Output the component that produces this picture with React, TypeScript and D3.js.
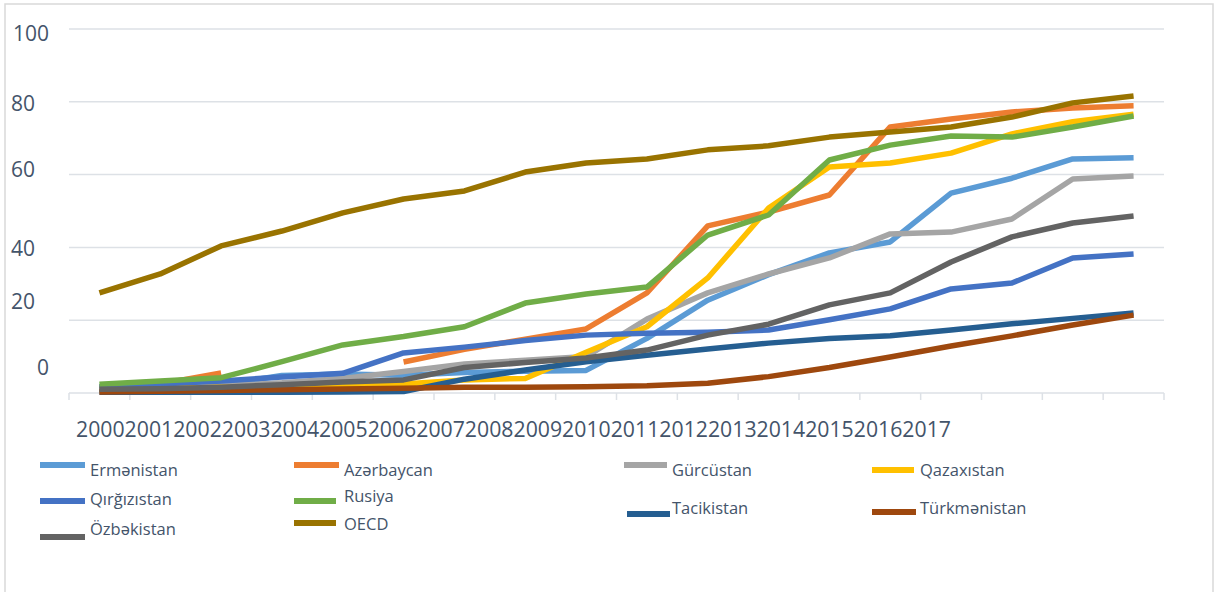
import React from "react";
import * as d3 from "d3";

// years on the x axis
const years = [
  "2000", "2001", "2002", "2003", "2004", "2005", "2006", "2007", "2008",
  "2009", "2010", "2011", "2012", "2013", "2014", "2015", "2016", "2017",
];

const yTicks = [100, 80, 60, 40, 20, 0];

// series values (null = no value)
const ermenistan = [1.0, 1.5, 2.2, 4.8, 5.2, 4.9, 5.6, 6.0, 6.2, 15.0, 25.5, 32.5, 38.5, 41.5, 54.9, 59.0, 64.3, 64.6];
const azerbaycan = [1.5, 2.5, 5.5, null, null, 8.5, 12.0, 14.8, 17.6, 27.5, 45.9, 49.7, 54.4, 73.1, 75.3, 77.2, 78.3, 78.9];
const gurcustan = [1.3, 1.6, 2.0, 2.8, 4.0, 5.9, 8.0, 9.0, 10.0, 20.3, 27.5, 32.7, 37.1, 43.7, 44.2, 47.8, 58.8, 59.6];
const qazaxistan = [0.8, 1.3, 1.6, 1.8, 2.0, 2.5, 3.6, 4.0, 11.2, 18.2, 31.6, 50.8, 62.1, 63.2, 65.9, 71.2, 74.5, 76.6];
const qirgizistan = [1.7, 2.5, 3.3, 4.4, 5.4, 11.0, 12.6, 14.4, 15.9, 16.4, 16.7, 17.3, 20.1, 23.1, 28.6, 30.2, 37.1, 38.2];
const rusiya = [2.4, 3.3, 4.2, 8.6, 13.2, 15.5, 18.2, 24.7, 27.2, 29.1, 43.4, 48.9, 64.0, 68.1, 70.6, 70.3, 73.1, 76.1];
const tacikistan = [0.2, 0.2, 0.2, 0.2, 0.3, 0.4, 3.8, 6.3, 8.6, 10.4, 12.1, 13.7, 15.0, 15.7, 17.3, 19.0, 20.5, 22.0];
const turkmenistan = [0.3, 0.5, 0.7, 0.9, 1.1, 1.3, 1.6, 1.6, 1.7, 2.0, 2.7, 4.5, 7.0, 9.9, 12.9, 15.7, 18.7, 21.4];
const ozbekistan = [1.0, 1.2, 1.6, 2.3, 3.0, 3.6, 7.0, 8.4, 9.6, 11.8, 15.9, 18.9, 24.2, 27.5, 36.0, 42.9, 46.7, 48.6];
const oecd = [27.5, 32.7, 40.4, 44.5, 49.5, 53.3, 55.5, 60.7, 63.2, 64.3, 66.8, 67.9, 70.3, 71.7, 73.1, 75.8, 79.7, 81.6];

const seriesNames = [
  "Ermənistan", "Azərbaycan", "Gürcüstan", "Qazaxıstan", "Qırğızıstan",
  "Rusiya", "Tacikistan", "Türkmənistan", "Özbəkistan", "OECD",
];
const seriesValues = [
  ermenistan, azerbaycan, gurcustan, qazaxistan, qirgizistan,
  rusiya, tacikistan, turkmenistan, ozbekistan, oecd,
];
const colors = [
  "#5b9bd5", "#ed7d31", "#a5a5a5", "#ffc000", "#4472c4",
  "#70ad47", "#255e91", "#9e480e", "#636363", "#997300",
];

// layout
const W = 1215;
const H = 592;
const font = "'Open Sans', 'Noto Sans', sans-serif";
const textColor = "#44546a";
const gridColor = "#dde1e6";

// y labels sit a little off their gridlines in the original
const yLabelBaseline = [41, 111, 177, 256, 309, 375];
const yLabelX = [{ x: 49, a: "end" }, { x: 11, a: "start" }, { x: 11, a: "start" }, { x: 11, a: "start" }, { x: 11, a: "start" }, { x: 49, a: "end" }];

// legend slots: swatch x0,x1,y and text x, baseline
const legendSlots = [
  { x0: 40, x1: 85, y: 465, tx: 90, ty: 476 },
  { x0: 294, x1: 339, y: 465, tx: 344, ty: 476 },
  { x0: 624, x1: 667, y: 465, tx: 672, ty: 476 },
  { x0: 872, x1: 914, y: 470, tx: 920, ty: 476 },
  { x0: 40, x1: 85, y: 501, tx: 90, ty: 505 },
  { x0: 294, x1: 336, y: 501, tx: 344, ty: 502 },
  { x0: 627, x1: 670, y: 514, tx: 672, ty: 514 },
  { x0: 872, x1: 916, y: 512, tx: 920, ty: 514 },
  { x0: 40, x1: 85, y: 537, tx: 90, ty: 535 },
  { x0: 294, x1: 336, y: 523, tx: 344, ty: 530 },
];

export default function App() {
  const x = d3.scaleBand<string>().domain(years).range([69, 1164]);
  const y = d3.scaleLinear().domain([0, 100]).range([393, 29]);
  // the year labels run together, starting near the left of the axis
  const labelX = d3.scaleLinear().domain([0, years.length]).range([76, 951]);

  const line = d3
    .line<number | null>()
    .defined((d) => d != null)
    .x((_, i) => (x(years[i]) as number) + x.bandwidth() / 2)
    .y((d) => y(d as number));

  const boundaries = [...years.map((yr) => x(yr) as number), x.range()[1]];

  return (
    <>
      <style>{`body{margin:0}`}</style>
      <svg width={W} height={H} style={{ display: "block", background: "#fff" }}>
        <rect x={5} y={4} width={1208} height={600} fill="none" stroke="#d9d9d9" strokeWidth={1.5} />

        {yTicks.map((t) =>
          t === 0 ? null : (
            <line key={t} x1={69} x2={1164} y1={y(t)} y2={y(t)} stroke={gridColor} strokeWidth={1.5} />
          )
        )}
        <line x1={69} x2={1164} y1={y(0)} y2={y(0)} stroke={gridColor} strokeWidth={1.5} />
        {boundaries.map((bx, i) => (
          <line key={i} x1={bx} x2={bx} y1={y(0)} y2={y(0) + 7} stroke={gridColor} strokeWidth={1.5} />
        ))}

        {yTicks.map((t, i) => (
          <text
            key={t}
            x={yLabelX[i].x}
            y={yLabelBaseline[i]}
            textAnchor={yLabelX[i].a as any}
            fontFamily={font}
            fontSize={21}
            fill={textColor}
          >
            {t}
          </text>
        ))}

        {years.map((yr, i) => (
          <text key={yr} x={labelX(i)} y={437} fontFamily={font} fontSize={21} fill={textColor} textLength={48.6} lengthAdjust="spacingAndGlyphs">
            {yr}
          </text>
        ))}

        {seriesValues.map((vals, i) => (
          <path
            key={seriesNames[i]}
            d={line(vals) || ""}
            fill="none"
            stroke={colors[i]}
            strokeWidth={5.5}
            strokeLinejoin="round"
            strokeLinecap="butt"
          />
        ))}

        {seriesNames.map((name, i) => {
          const s = legendSlots[i];
          return (
            <g key={name}>
              <line x1={s.x0} x2={s.x1} y1={s.y} y2={s.y} stroke={colors[i]} strokeWidth={6} />
              <text x={s.tx} y={s.ty} fontFamily={font} fontSize={16.5} fill={textColor}>
                {name}
              </text>
            </g>
          );
        })}
      </svg>
    </>
  );
}
